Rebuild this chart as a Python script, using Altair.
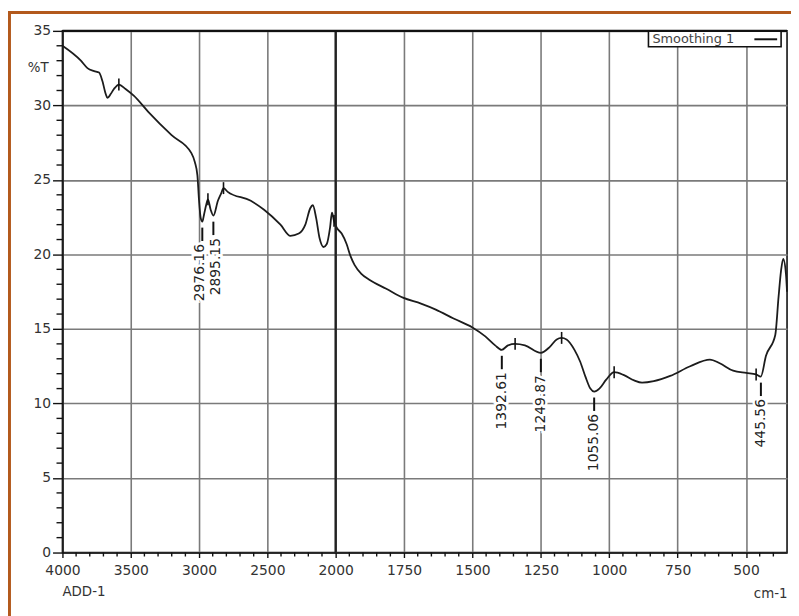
import altair as alt
import pandas as pd

# ---- spectrum ----
wavenumber = [4000, 3865, 3817, 3768, 3732, 3708, 3683, 3671, 3647, 3623, 3587, 3538, 3478,
              3370, 3201, 3056, 3031, 3012, 3000, 2988, 2976, 2963, 2947, 2935, 2915, 2895,
              2862, 2838, 2821, 2790, 2621, 2524, 2404, 2331, 2270, 2222, 2186, 2167, 2143,
              2118, 2089, 2065, 2041, 2027, 2012, 1996, 1978, 1960, 1946, 1931, 1906, 1877,
              1815, 1754, 1688, 1634, 1569, 1500, 1453, 1417, 1393, 1370, 1344, 1308, 1250,
              1217, 1192, 1174, 1156, 1127, 1106, 1087, 1069, 1055, 1036, 1011, 982, 946,
              909, 880, 837, 777, 704, 632, 596, 547, 499, 463, 446, 427, 393, 381, 372,
              364, 354, 350]
transmittance = [34.0, 33.0, 32.5, 32.3, 32.2, 31.65, 30.76, 30.5, 30.76, 31.1, 31.4, 31.1, 30.65,
                 29.55, 28.0, 26.8, 26.2, 25.3, 23.6, 22.45, 22.2, 22.7, 23.35, 23.7, 23.0, 22.6,
                 23.6, 24.1, 24.45, 24.2, 23.6, 23.0, 22.0, 21.25, 21.4, 22.0, 23.1, 23.3, 22.45,
                 21.1, 20.5, 20.7, 21.8, 22.8, 22.25, 21.8, 21.4, 20.7, 19.9, 19.3, 18.7, 18.3,
                 17.7, 17.1, 16.7, 16.3, 15.7, 15.1, 14.5, 13.9, 13.6, 13.9, 14.0, 13.9, 13.4,
                 13.8, 14.3, 14.4, 14.3, 13.6, 12.8, 11.8, 11.0, 10.8, 11.0, 11.6, 12.1, 11.9,
                 11.55, 11.4, 11.5, 11.85, 12.5, 12.95, 12.7, 12.2, 12.05, 11.95, 11.8, 13.2, 14.6, 17.15, 18.9,
                 19.7, 18.7, 17.5]

# labelled minima
peak_labels = ["2976.16", "2895.15", "1392.61", "1249.87", "1055.06", "445.56"]
peak_wn = [2976.16, 2895.15, 1392.61, 1249.87, 1055.06, 445.56]
peak_T = [22.2, 22.6, 13.6, 13.4, 10.8, 11.8]

# small "+" markers on maxima
marker_wn = [3587, 2935, 2821, 2012, 1344, 1174, 982, 463]
marker_T = [31.4, 23.7, 24.45, 22.25, 14.0, 14.4, 12.1, 11.95]

# axes
x_major = [4000, 3500, 3000, 2500, 2000, 1750, 1500, 1250, 1000, 750, 500]
x_minor = [3900, 3800, 3700, 3600, 3400, 3300, 3200, 3100, 2900, 2800, 2700, 2600, 2400,
           2300, 2200, 2100, 1950, 1900, 1850, 1800, 1700, 1650, 1600, 1550, 1450, 1400,
           1350, 1300, 1200, 1150, 1100, 1050, 950, 900, 850, 800, 700, 650, 600, 550,
           450, 400]
y_major = [0, 5, 10, 15, 20, 25, 30, 35]
y_minor = [v for v in range(1, 35) if v % 5]
split_line = [2000]

FONT = "DejaVu Sans"
W, H = 732, 527
GRID = "#7a7a7a"

spec = pd.DataFrame({"wn": wavenumber, "T": transmittance})
peaks = pd.DataFrame({"label": peak_labels, "wn": peak_wn, "T": peak_T})
markers = pd.DataFrame({"wn": marker_wn, "T": marker_T})

xs = alt.Scale(domain=[4000, 2000, 350], range=[0, 276, W], nice=False, zero=False)
ys = alt.Scale(domain=[0, 35], nice=False, zero=True)

x_axis = alt.Axis(values=x_major, grid=True, gridColor=GRID, gridWidth=1.6,
                  domainColor="#111", domainWidth=1.6, tickColor="#111", tickSize=5,
                  tickWidth=1.4, labelFont=FONT, labelFontSize=14, labelColor="#333",
                  labelPadding=6, labelFlush=False, format="d", labelOverlap=False,
                  title="cm-1", titleFont=FONT, titleFontSize=13.5, titleFontWeight="normal",
                  titleColor="#333", titleX=W, titleY=41, titleAlign="right",
                  titleBaseline="middle", titleAngle=0)
y_axis = alt.Axis(values=y_major, grid=True, gridColor=GRID, gridWidth=1.6,
                  domainColor="#111", domainWidth=1.6, tickColor="#111", tickSize=10,
                  tickWidth=1.4, labelFont=FONT, labelFontSize=14, labelColor="#333",
                  labelPadding=2, format="d",
                  title="%T", titleFont=FONT, titleFontSize=13.5, titleFontWeight="normal",
                  titleColor="#333", titleAngle=0, titleX=-25, titleY=37,
                  titleAlign="center", titleBaseline="middle")

line = alt.Chart(spec).mark_line(color="#1c1c1c", strokeWidth=1.8,
                                 interpolate="monotone").encode(
    x=alt.X("wn:Q", scale=xs, axis=x_axis),
    y=alt.Y("T:Q", scale=ys, axis=y_axis),
)

split = alt.Chart(pd.DataFrame({"wn": split_line})).mark_rule(
    color="#222", strokeWidth=2.4).encode(x=alt.X("wn:Q", scale=xs))

xminor = alt.Chart(pd.DataFrame({"wn": x_minor})).mark_rule(
    color="#111", strokeWidth=1.4).encode(
    x=alt.X("wn:Q", scale=xs), y=alt.value(H), y2=alt.value(H + 4))
yminor = alt.Chart(pd.DataFrame({"T": y_minor})).mark_rule(
    color="#111", strokeWidth=1.4).encode(
    y=alt.Y("T:Q", scale=ys), x=alt.value(-6), x2=alt.value(0))

mk = alt.Chart(markers).transform_calculate(
    top="datum.T + 0.4", bot="datum.T - 0.4").mark_rule(
    color="#111", strokeWidth=1.6).encode(
    x=alt.X("wn:Q", scale=xs), y=alt.Y("top:Q", scale=ys), y2="bot:Q")

pk_base = alt.Chart(peaks).transform_calculate(
    t1="datum.T - 0.4", t2="datum.T - 1.3", tt="datum.T - 1.5")
pk_tick = pk_base.mark_rule(color="#111", strokeWidth=2).encode(
    x=alt.X("wn:Q", scale=xs), y=alt.Y("t1:Q", scale=ys), y2="t2:Q")

text_layers = []
for flt, off in [("datum.wn > 2950", -2), ("datum.wn > 2000 && datum.wn < 2950", 3),
                 ("datum.wn < 2000", 0)]:
    b = pk_base.transform_filter(flt)
    text_layers.append(b.mark_text(angle=270, align="right", baseline="middle", font=FONT,
                                   fontSize=14, color="white", stroke="white",
                                   strokeWidth=5, xOffset=off).encode(
        x=alt.X("wn:Q", scale=xs), y=alt.Y("tt:Q", scale=ys), text="label:N"))
for flt, off in [("datum.wn > 2950", -2), ("datum.wn > 2000 && datum.wn < 2950", 3),
                 ("datum.wn < 2000", 0)]:
    b = pk_base.transform_filter(flt)
    text_layers.append(b.mark_text(angle=270, align="right", baseline="middle", font=FONT,
                                   fontSize=14, color="#222", xOffset=off).encode(
        x=alt.X("wn:Q", scale=xs), y=alt.Y("tt:Q", scale=ys), text="label:N"))

one = pd.DataFrame({"t": ["Smoothing 1"]})
leg_box = alt.Chart(one).mark_rect(fill="white", stroke="#111", strokeWidth=1.6).encode(
    x=alt.value(592), x2=alt.value(726), y=alt.value(0), y2=alt.value(16))
leg_text = alt.Chart(one).mark_text(align="left", baseline="middle", font=FONT,
                                    fontSize=13, color="#444").encode(
    x=alt.value(596), y=alt.value(8.5), text="t:N")
leg_line = alt.Chart(one).mark_rule(color="#111", strokeWidth=2).encode(
    x=alt.value(699), x2=alt.value(722), y=alt.value(8.5))

add = alt.Chart(pd.DataFrame({"t": ["ADD-1"]})).mark_text(
    align="left", baseline="middle", font=FONT, fontSize=13.5, color="#333").encode(
    x=alt.value(0), y=alt.value(567), text="t:N")

top_border = alt.Chart(one).mark_rule(color="#111", strokeWidth=2.5).encode(
    x=alt.value(0), x2=alt.value(W), y=alt.value(0))

frame_color = "#b3591c"
frame_top = alt.Chart(one).mark_rule(color=frame_color, strokeWidth=3).encode(
    x=alt.value(-55), x2=alt.value(740), y=alt.value(-18.5))
frame_left = alt.Chart(one).mark_rule(color=frame_color, strokeWidth=3).encode(
    x=alt.value(-53.5), y=alt.value(-20), y2=alt.value(600))

chart = alt.layer(
    line, split, xminor, yminor, mk, pk_tick, *text_layers,
    leg_box, leg_text, leg_line, add, top_border, frame_top, frame_left
).properties(
    width=W, height=H,
    padding={"left": 55, "top": 20, "right": 4, "bottom": 61},
    autosize="none",
    background="white",
).configure_view(stroke="#111", strokeWidth=1.6)

chart.save("out.html", embed_options={"renderer": "svg", "actions": False})
